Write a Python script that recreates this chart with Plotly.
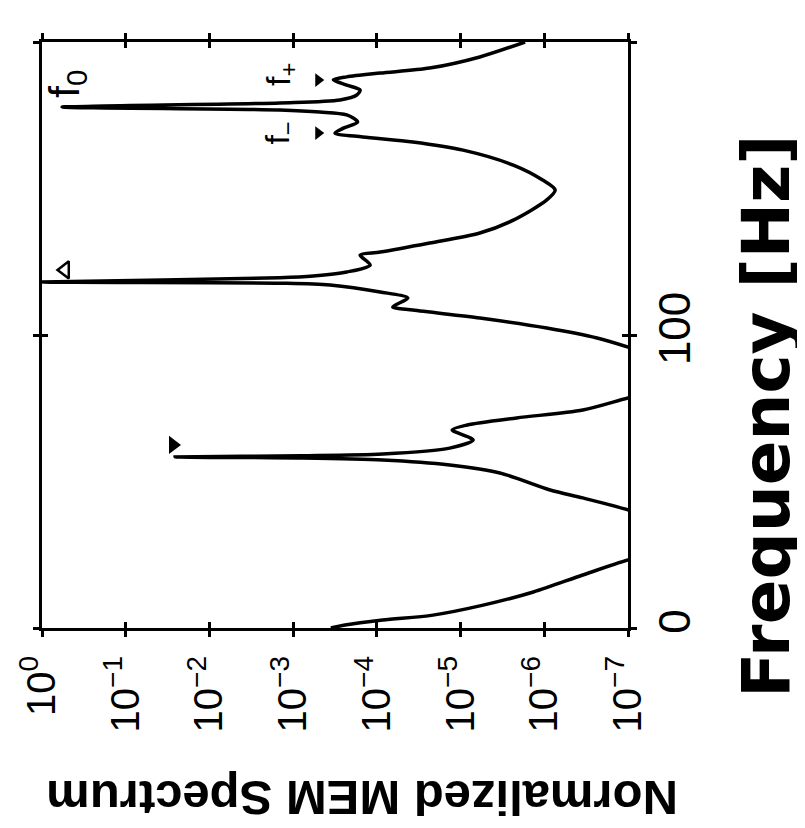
import plotly.graph_objects as go

# Frequency [Hz] and log10 of normalized MEM spectrum
freq = [0, 1.0, 2.7, 4.4, 7.8, 12.3, 18.1, 23.2, 26, 30, 35,
        40.3, 44.4, 47.1, 52.9, 55.6, 57.3, 58.0, 58.4, 58.8, 59.4, 61.4, 64.2, 67.6, 69.3, 71.7, 74.4, 78.5,
        82, 88, 92,
        95.9, 99.0, 102.4, 105.8, 108.5, 109.6, 112.6, 114.7, 117.1, 117.7, 118.1, 119.5, 120.1, 121.5,
        123.9, 127.3, 128.3, 131.4, 134.8, 139.2, 146.1, 149.5, 152.9, 158.0, 163.1, 165.9, 167.6, 168.9,
        170.6, 172.7, 175.1, 176.1, 176.8, 177.8, 179.2, 180.2, 181.9, 183.6, 185.3, 187.1, 188.1, 189.4,
        191.1, 194.9, 200]
log_spectrum = [-3.45, -3.62, -4.07, -4.67, -5.27, -5.87, -6.46, -7.0, -7.4, -7.8, -7.5,
                -7.0, -6.46, -6.07, -5.47, -4.87, -4.07, -3.1, -1.59, -3.1, -4.07, -4.87, -5.15, -4.90, -5.08, -5.67, -6.46, -7.0,
                -7.5, -7.8, -7.4,
                -7.0, -6.63, -6.03, -5.23, -4.43, -4.19, -4.37, -4.04, -3.44, -2.84, 0.0, -2.84, -3.24, -3.64,
                -3.92, -3.80, -4.04, -4.63, -5.23, -5.63, -6.03, -6.13, -5.98, -5.63, -5.03, -4.43, -3.83, -3.50,
                -3.60, -3.77, -3.64, -3.32, -2.84, -0.24, -2.84, -3.56, -3.76, -3.80, -3.64, -3.48, -3.64, -4.04,
                -4.63, -5.23, -5.77]
spectrum = [10 ** v for v in log_spectrum]

# marked peaks
filled_freq = [62.5]
filled_spec = [10 ** -1.565]
open_freq = [122.2]
open_spec = [10 ** -0.275]
side_freq = [187.0, 168.9]
side_spec = [10 ** -3.30, 10 ** -3.30]

# peak labels (log10 position for annotation on log axis)
label_text = ["f<sub>0</sub>", "f<sub>+</sub>", "f<sub>−</sub>"]
label_freq = [185.8, 189.0, 169.0]
label_logspec = [-0.30, -2.84, -2.84]
label_size = [42, 34, 34]

x_tickvals = [1, 1e-1, 1e-2, 1e-3, 1e-4, 1e-5, 1e-6, 1e-7]
x_ticktext = ["10<sup>0</sup>", "10<sup>−1</sup>", "10<sup>−2</sup>", "10<sup>−3</sup>",
              "10<sup>−4</sup>", "10<sup>−5</sup>", "10<sup>−6</sup>", "10<sup>−7</sup>"]
y_tickvals = [0, 100, 200]
y_ticktext = ["0", "100", "200"]

FONT = "Arial, Liberation Sans, Helvetica, sans-serif"

fig = go.Figure()
fig.add_trace(go.Scatter(x=spectrum, y=freq, mode="lines",
                         line=dict(color="black", width=3.5, shape="spline", smoothing=0.8),
                         hoverinfo="skip", showlegend=False))
fig.add_trace(go.Scatter(x=filled_spec, y=filled_freq, mode="markers",
                         marker=dict(symbol="triangle-right", size=16, color="black"),
                         showlegend=False, hoverinfo="skip"))
fig.add_trace(go.Scatter(x=open_spec, y=open_freq, mode="markers",
                         marker=dict(symbol="triangle-left-open", size=15, color="black",
                                     line=dict(width=2.5, color="black")),
                         showlegend=False, hoverinfo="skip"))
fig.add_trace(go.Scatter(x=side_spec, y=side_freq, mode="markers",
                         marker=dict(symbol="triangle-right", size=12, color="black"),
                         showlegend=False, hoverinfo="skip"))
# dummy trace for inner tick overlay axes
fig.add_trace(go.Scatter(x=[1e-3], y=[100], xaxis="x2", yaxis="y2", mode="markers",
                         marker=dict(opacity=0), showlegend=False, hoverinfo="skip"))

for t, f, s, sz in zip(label_text, label_freq, label_logspec, label_size):
    fig.add_annotation(x=s, y=f, xref="x", yref="y", text=t, showarrow=False,
                       textangle=-90, font=dict(family=FONT, size=sz, color="black"),
                       xanchor="center", yanchor="middle")

fig.add_annotation(x=0.546, y=-0.290, xref="paper", yref="paper", text="Normalized MEM Spectrum",
                   showarrow=False, textangle=180, xanchor="center", yanchor="middle",
                   font=dict(family=FONT, size=49, color="black", weight="bold"))
fig.add_annotation(x=1.237, y=0.362, xref="paper", yref="paper", text="Frequency [Hz]",
                   showarrow=False, textangle=-90, xanchor="center", yanchor="middle",
                   font=dict(family="DejaVu Sans, Arial, sans-serif", size=66, color="black", weight="bold"))

axis_common = dict(showgrid=False, zeroline=False, linecolor="black", linewidth=3,
                   tickcolor="black", tickwidth=3, automargin=False)

# the page body adds an 8px offset, so the figure is 8px smaller with 8px less top/left margin
fig.update_layout(
    width=797, height=820, autosize=False,
    margin=dict(l=34, r=177, t=34, b=200),
    paper_bgcolor="white", plot_bgcolor="white",
    font=dict(family=FONT, color="black"),
    xaxis=dict(type="log", range=[0, -7], side="bottom", showline=True, mirror="ticks",
               ticks="outside", ticklen=6, tickvals=x_tickvals, ticktext=x_ticktext,
               tickangle=-90, ticklabelstandoff=3, tickfont=dict(size=40, family=FONT),
               **axis_common),
    yaxis=dict(range=[0, 200], side="right", showline=True, mirror="ticks",
               ticks="outside", ticklen=6, tickvals=y_tickvals, ticktext=y_ticktext,
               tickangle=-90, ticklabelstandoff=0, tickfont=dict(size=44, family=FONT),
               **axis_common),
    xaxis2=dict(type="log", range=[0, -7], overlaying="x", anchor="y", side="bottom",
                showline=False, mirror="ticks", ticks="inside", ticklen=6, tickvals=x_tickvals,
                showticklabels=False, showgrid=False, zeroline=False, tickcolor="black",
                tickwidth=3, automargin=False),
    yaxis2=dict(range=[0, 200], overlaying="y", anchor="x", side="right",
                showline=False, mirror="ticks", ticks="inside", ticklen=6, tickvals=y_tickvals,
                showticklabels=False, showgrid=False, zeroline=False, tickcolor="black",
                tickwidth=3, automargin=False),
)

fig.write_html("out.html")
